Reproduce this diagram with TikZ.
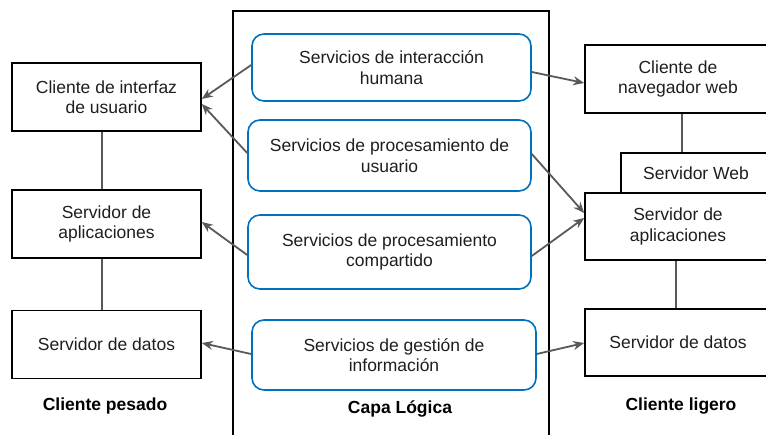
\documentclass[tikz,border=0pt]{standalone}
\usepackage{fontspec}
\setmainfont{Liberation Sans}
\usetikzlibrary{arrows.meta}
\definecolor{boxblue}{RGB}{0,112,192}
\definecolor{arrgray}{RGB}{89,89,89}
\definecolor{txt}{RGB}{30,30,30}
\begin{document}
\begin{tikzpicture}[x=1pt,y=-1pt,
  every node/.style={font=\fontsize{17.5}{20.5}\selectfont, text=txt, align=center, inner sep=0pt},
  blackbox/.style={draw=black, line width=1.6pt, minimum width=189pt, minimum height=68pt},
  rightbox/.style={draw=black, line width=1.6pt, minimum width=186pt, minimum height=67pt},
  bluebox/.style={draw=boxblue, line width=1.6pt, rounded corners=12pt},
  conn/.style={draw=arrgray, line width=1.8pt},
  arr/.style={conn, -{Stealth[length=11pt,width=9pt]}},
  lbl/.style={font=\fontsize{17.5}{20}\selectfont\bfseries, text=black}]
\useasboundingbox (0,0) rectangle (766,434);
% Capa Logica frame
\draw[line width=1.6pt] (233,440) coordinate (cbl) -- (233,11) -- (549,11) -- (549,440);
% left boxes
\node[blackbox] (l1) at (106.5,97) {Cliente de interfaz\\de usuario};
\node[blackbox] (l2) at (106.5,224) {Servidor de\\aplicaciones};
\node[blackbox] (l3) at (106.5,344.5) {Servidor de datos};
% blue boxes
\node[bluebox, minimum width=279pt, minimum height=67pt] (b1) at (391.5,67.5) {Servicios de interacción\\humana};
\node[bluebox, minimum width=283pt, minimum height=71pt] (b2) at (389.5,155.5) {Servicios de procesamiento  de\\usuario};
\node[bluebox, minimum width=283pt, minimum height=74pt] (b3) at (389.5,252) {Servicios de procesamiento\\compartido};
\node[bluebox, minimum width=284pt, minimum height=70pt] (b4) at (394,355) {Servicios de gestión de\\información};
% right boxes
\node[rightbox, minimum height=68pt] (r1) at (678,79) {Cliente de\\navegador web};
\node[draw=black, line width=1.6pt, minimum width=150pt, minimum height=40pt] (rw) at (696,173) {Servidor Web};
\node[rightbox] (r2) at (678,226.5) {Servidor de\\aplicaciones};
\node[rightbox] (r3) at (678,342.5) {Servidor de datos};
% labels
\node[lbl] (lp) at (105,406) {Cliente pesado};
\node[lbl] (lc) at (400,409) {Capa Lógica};
\node[lbl] (ll) at (681,406) {Cliente ligero};
% vertical connectors
\draw[conn] ([xshift=-4.5pt]l1.south) -- ([xshift=-4.5pt]l2.north);
\draw[conn] ([xshift=-4.5pt]l2.south) -- ([xshift=-4.5pt]l3.north);
\draw[conn] ([xshift=4pt]r1.south) -- ([xshift=4pt]r1.south |- rw.north);
\draw[conn] ([xshift=-2pt]r2.south) -- ([xshift=-2pt]r3.north);
% arrows left
\draw[arr] ([yshift=2.5pt]b1.west) -- ([yshift=-2pt]l1.east);
\draw[arr] ([yshift=2.5pt]b2.west) -- ([yshift=-7pt]l1.east);
\draw[arr] ([yshift=-3pt]b3.west) -- ([yshift=2pt]l2.east);
\draw[arr] ([yshift=1pt]b4.west) -- ([yshift=1.5pt]l3.east);
% arrows right
\draw[arr] ([yshift=-4.5pt]b1.east) -- ([yshift=-4pt]r1.west);
\draw[arr] ([yshift=1.5pt]b2.east) -- ([yshift=13.5pt]r2.west);
\draw[arr] ([yshift=-4pt]b3.east) -- ([yshift=8.5pt]r2.west);
\draw[arr] ([yshift=1pt]b4.east) -- ([yshift=-0.5pt]r3.west);
\end{tikzpicture}
\end{document}
